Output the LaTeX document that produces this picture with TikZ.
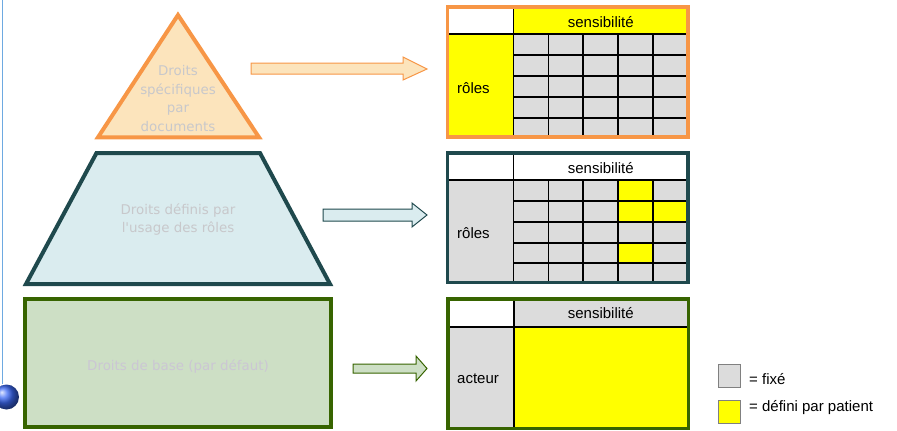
\documentclass[tikz,border=0pt]{standalone}
\usepackage{fontspec}
\setmainfont{Liberation Sans}
\newfontfamily\dv{DejaVu Sans}
\definecolor{orB}{RGB}{247,150,70}
\definecolor{orF}{RGB}{252,228,188}
\definecolor{tlB}{RGB}{31,73,77}
\definecolor{tlF}{RGB}{218,236,239}
\definecolor{gnB}{RGB}{55,100,0}
\definecolor{gnF}{RGB}{205,223,197}
\definecolor{cellG}{RGB}{220,220,220}
\definecolor{ylw}{RGB}{255,255,0}
\definecolor{faint}{RGB}{200,200,203}
\definecolor{faintB}{RGB}{203,198,212}
\definecolor{ruleB}{RGB}{110,170,225}
\definecolor{ballB}{RGB}{60,105,245}
\tikzset{
  pyr/.style={line width=4pt, line join=miter},
  ptext/.style={font=\dv\fontsize{13.4}{18.5}\selectfont, text=faint, align=center, inner sep=0pt},
  blk/.style={line width=1pt, line join=miter},
  gridline/.style={line width=1.8pt, draw=black},
  tborder/.style={line width=3.5pt},
  ttext/.style={font=\fontsize{15}{18}\selectfont, inner sep=0pt},
  legbox/.style={draw=gray, line width=0.8pt},
}
\begin{document}
\begin{tikzpicture}[x=1pt,y=-1pt]
\useasboundingbox (0,0) rectangle (897,431);
% left rule and ball
\draw[ruleB, line width=1.2pt] (2.7,0) -- (2.7,384);
\shade[ball color=ballB] (6.5,397) circle (12.5);

% pyramid
\draw[pyr, draw=orB, fill=orF] (178,15) -- (259,137.3) -- (98,137.3) -- cycle;
\node[ptext] (t1) at (178,98.5) {Droits\\spécifiques\\par\\documents};
\draw[pyr, draw=tlB, fill=tlF] (96.5,153) -- (260,153) -- (330,284) -- (26,284) -- cycle;
\node[ptext] (t2) at (178,219.5) {Droits définis par\\l'usage des rôles};
\draw[pyr, draw=gnB, fill=gnF] (24.7,299.3) rectangle (331.3,427.3);
\node[ptext, text=faintB] (t3) at (178,367) {Droits de base (par défaut)};

% block arrows
\draw[blk, draw=orB, fill=orF] (251,63) -- (403,63) -- (403,57) -- (427,69) -- (403,80) -- (403,74) -- (251,74) -- cycle;
\draw[blk, draw=tlB, fill=tlF] (323,209) -- (412,209) -- (412,203) -- (427,215) -- (412,227) -- (412,221) -- (323,221) -- cycle;
\draw[blk, draw=gnB, fill=gnF] (353,364) -- (416,364) -- (416,356) -- (427,368.5) -- (416,381) -- (416,373) -- (353,373) -- cycle;

% top table
\fill[ylw] (448,7) rectangle (688,137);
\fill[white] (448,7) rectangle (513.5,34.3);
\fill[cellG] (513.5,34.3) rectangle (688,137);
\draw[gridline] (448,34.3) -- (688,34.3);
\draw[gridline] (513.5,7) -- (513.5,137);
\foreach \y in {55,76,97.3,118.3} \draw[gridline] (513.5,\y) -- (688,\y);
\foreach \x in {548.4,583.3,618.2,653.1} \draw[gridline] (\x,34.3) -- (\x,137);
\draw[tborder, draw=orB] (447.7,7) rectangle (688,137);
\node[ttext] (s1) at (600.8,22) {sensibilité};
\node[ttext, anchor=west] (r1) at (457,88) {rôles};

% middle table
\fill[cellG] (448,153) rectangle (688,282.5);
\fill[white] (448,153) rectangle (688,180);
\fill[ylw] (618.2,180) rectangle (653.1,201);
\fill[ylw] (618.2,201) rectangle (688,221.7);
\fill[ylw] (618.2,242.7) rectangle (653.1,263.3);
\draw[gridline] (448,180) -- (688,180);
\draw[gridline] (513.5,153) -- (513.5,282.5);
\foreach \y in {201,221.7,242.7,263.3} \draw[gridline] (513.5,\y) -- (688,\y);
\foreach \x in {548.4,583.3,618.2,653.1} \draw[gridline] (\x,180) -- (\x,282.5);
\draw[tborder, draw=tlB] (447.7,153) rectangle (688,282.5);
\node[ttext] (s2) at (600.8,168) {sensibilité};
\node[ttext, anchor=west] (r2) at (457,233) {rôles};

% bottom table
\fill[cellG] (448,299) rectangle (688.5,428.3);
\fill[white] (448,299) rectangle (514,326.7);
\fill[ylw] (514,326.7) rectangle (688.5,428.3);
\draw[gridline] (448,326.7) -- (688.5,326.7);
\draw[gridline] (514,299) -- (514,428.3);
\draw[tborder, draw=gnB] (448,299) rectangle (688.5,428.3);
\node[ttext] (s3) at (600.8,313) {sensibilité};
\node[ttext, anchor=west] (a3) at (457,379) {acteur};

% legend
\draw[legbox, fill=cellG] (718,364) rectangle (740,387);
\draw[legbox, fill=ylw] (718,400) rectangle (740,423);
\node[ttext, anchor=west] (l1) at (749,379) {= fixé};
\node[ttext, anchor=west] (l2) at (749,408) {= défini par patient};
\end{tikzpicture}
\end{document}
